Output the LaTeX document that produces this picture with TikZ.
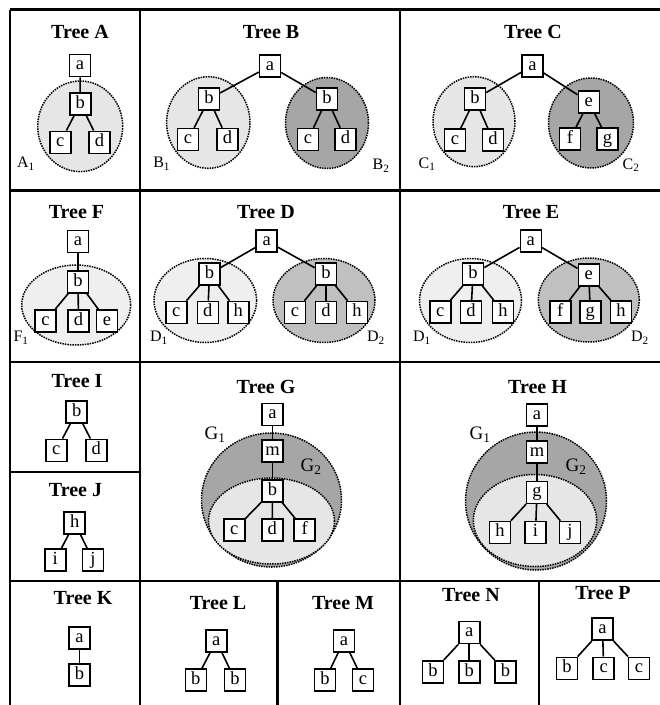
\documentclass[tikz,border=0pt]{standalone}
\usepackage{fontspec}
\setmainfont{Liberation Serif}
\definecolor{glight}{HTML}{E6E6E6}
\definecolor{glighter}{HTML}{EFEFEF}
\definecolor{gmed}{HTML}{C0C0C0}
\definecolor{gdark}{HTML}{A6A6A6}
\tikzset{
  tn/.style={draw, line width=1.6pt, fill=white, minimum width=21pt, minimum height=22pt,
    inner sep=0pt, text height=12.6pt, text depth=4pt, font=\fontsize{18.5}{18.5}\selectfont},
  ttl/.style={font=\bfseries\fontsize{20}{20}\selectfont, inner sep=0pt},
  lbl/.style={font=\fontsize{16}{16}\selectfont, inner sep=0pt},
  glbl/.style={font=\fontsize{19}{19}\selectfont, inner sep=0pt},
  tedge/.style={line width=1.6pt},
  gridline/.style={line width=2.2pt},
  blob/.style={draw=black, densely dotted, line width=1.5pt},
}
\begin{document}
\begin{tikzpicture}[x=1pt,y=-1pt]
\useasboundingbox (0,0) rectangle (660,705);
% ---------- grid ----------
\draw[gridline] (10,9.5) -- (660,9.5);
\draw[gridline] (10,9.5) -- (10,705);
\draw[gridline] (10,190.5) -- (660,190.5);
\draw[gridline] (10,362) -- (660,362);
\draw[gridline] (10,581) -- (660,581);
\draw[gridline] (10,472) -- (140,472);
\draw[gridline] (140,9.5) -- (140,705);
\draw[gridline] (400,9.5) -- (400,705);
\draw[gridline] (277.5,581) -- (277.5,705);
\draw[gridline] (539,581) -- (539,705);

% ---------- ellipses ----------
\fill[glight] (80.2,126.3) ellipse [x radius=42.5pt, y radius=45.3pt];
\draw[blob] (80.2,126.3) ellipse [x radius=42.5pt, y radius=45.3pt];
\fill[glight] (208.3,122.5) ellipse [x radius=41.7pt, y radius=45.8pt];
\draw[blob] (208.3,122.5) ellipse [x radius=41.7pt, y radius=45.8pt];
\fill[gdark] (327,123) ellipse [x radius=41.5pt, y radius=45.5pt];
\draw[blob] (327,123) ellipse [x radius=41.5pt, y radius=45.5pt];
\fill[glight] (474,121.7) ellipse [x radius=41pt, y radius=45pt];
\draw[blob] (474,121.7) ellipse [x radius=41pt, y radius=45pt];
\fill[gdark] (591,123) ellipse [x radius=42.5pt, y radius=45pt];
\draw[blob] (591,123) ellipse [x radius=42.5pt, y radius=45pt];

\fill[glighter] (76.2,305) ellipse [x radius=54.5pt, y radius=40pt];
\draw[blob] (76.2,305) ellipse [x radius=54.5pt, y radius=40pt];
\fill[glighter] (205.3,300.5) ellipse [x radius=51.3pt, y radius=42pt];
\draw[blob] (205.3,300.5) ellipse [x radius=51.3pt, y radius=42pt];
\fill[gmed] (324,300.5) ellipse [x radius=51pt, y radius=42pt];
\draw[blob] (324,300.5) ellipse [x radius=51pt, y radius=42pt];
\fill[glighter] (470.5,300.5) ellipse [x radius=51pt, y radius=42pt];
\draw[blob] (470.5,300.5) ellipse [x radius=51pt, y radius=42pt];
\fill[gmed] (588.8,300) ellipse [x radius=50.5pt, y radius=42pt];
\draw[blob] (588.8,300) ellipse [x radius=50.5pt, y radius=42pt];

\fill[gdark] (271.5,500) ellipse [x radius=70pt, y radius=67pt];
\draw[blob] (271.5,500) ellipse [x radius=70pt, y radius=67pt];
\fill[glight] (271.5,521) ellipse [x radius=63pt, y radius=43pt];
\draw[blob] (271.5,521) ellipse [x radius=63pt, y radius=43pt];
\fill[gdark] (536,501) ellipse [x radius=70.5pt, y radius=69pt];
\draw[blob] (536,501) ellipse [x radius=70.5pt, y radius=69pt];
\fill[glight] (535,520.5) ellipse [x radius=61.7pt, y radius=46pt];
\draw[blob] (535,520.5) ellipse [x radius=61.7pt, y radius=46pt];

% ---------- titles ----------
\node[ttl] (tA) at (80,32) {Tree A};
\node[ttl] (tB) at (271,32) {Tree B};
\node[ttl] (tC) at (533,32) {Tree C};
\node[ttl] (tF) at (76.5,211.7) {Tree F};
\node[ttl] (tD) at (266,211.7) {Tree D};
\node[ttl] (tE) at (531,211.7) {Tree E};
\node[ttl] (tI) at (77,381) {Tree I};
\node[ttl] (tJ) at (75.5,490) {Tree J};
\node[ttl] (tG) at (266,387) {Tree G};
\node[ttl] (tH) at (537.5,387) {Tree H};
\node[ttl] (tK) at (83,598.5) {Tree K};
\node[ttl] (tL) at (218,603.5) {Tree L};
\node[ttl] (tM) at (343,603.5) {Tree M};
\node[ttl] (tN) at (471,595) {Tree N};
\node[ttl] (tP) at (603,593.5) {Tree P};

% ---------- subtree labels ----------
\node[lbl] (lA1) at (26,164) {A\textsubscript{1}};
\node[lbl] (lB1) at (161.7,164) {B\textsubscript{1}};
\node[lbl] (lB2) at (381,166) {B\textsubscript{2}};
\node[lbl] (lC1) at (427,164) {C\textsubscript{1}};
\node[lbl] (lC2) at (631,165) {C\textsubscript{2}};
\node[lbl] (lF1) at (21,338) {F\textsubscript{1}};
\node[lbl] (lD1) at (159,338) {D\textsubscript{1}};
\node[lbl] (lD2) at (376,338) {D\textsubscript{2}};
\node[lbl] (lE1) at (422,338) {D\textsubscript{1}};
\node[lbl] (lE2) at (640,338) {D\textsubscript{2}};
\node[glbl] (lG1) at (215,435) {G\textsubscript{1}};
\node[glbl] (lG2) at (311,467) {G\textsubscript{2}};
\node[glbl] (lH1) at (480,435) {G\textsubscript{1}};
\node[glbl] (lH2) at (576,467) {G\textsubscript{2}};

% ---------- Tree A ----------
\node[tn] (Aa) at (80,65.5) {a};
\node[tn] (Ab) at (80.3,103.7) {b};
\node[tn] (Ac) at (60.3,142.3) {c};
\node[tn] (Ad) at (99.5,142.3) {d};
\draw[tedge] (Aa) -- (Ab); \draw[tedge] (Ab) -- (Ac); \draw[tedge] (Ab) -- (Ad);
% ---------- Tree B ----------
\node[tn] (Ba) at (270,66) {a};
\node[tn] (Bb1) at (209,99) {b};
\node[tn] (Bc1) at (188,139.5) {c};
\node[tn] (Bd1) at (227.5,139.5) {d};
\node[tn] (Bb2) at (327,99) {b};
\node[tn] (Bc2) at (308,139.5) {c};
\node[tn] (Bd2) at (345.5,139.5) {d};
\draw[tedge] (Ba) -- (Bb1); \draw[tedge] (Ba) -- (Bb2);
\draw[tedge] (Bb1) -- (Bc1); \draw[tedge] (Bb1) -- (Bd1);
\draw[tedge] (Bb2) -- (Bc2); \draw[tedge] (Bb2) -- (Bd2);
% ---------- Tree C ----------
\node[tn] (Ca) at (532.5,65.8) {a};
\node[tn] (Cb) at (475,99) {b};
\node[tn] (Cc) at (455,140) {c};
\node[tn] (Cd) at (493,140) {d};
\node[tn] (Ce) at (588.8,102) {e};
\node[tn] (Cf) at (570,139) {f};
\node[tn] (Cg) at (607.5,139) {g};
\draw[tedge] (Ca) -- (Cb); \draw[tedge] (Ca) -- (Ce);
\draw[tedge] (Cb) -- (Cc); \draw[tedge] (Cb) -- (Cd);
\draw[tedge] (Ce) -- (Cf); \draw[tedge] (Ce) -- (Cg);
% ---------- Tree F ----------
\node[tn] (Fa) at (78,241.3) {a};
\node[tn] (Fb) at (78,281.7) {b};
\node[tn] (Fc) at (45.5,321) {c};
\node[tn] (Fd) at (78.5,321) {d};
\node[tn] (Fe) at (107,321) {e};
\draw[tedge] (Fa) -- (Fb); \draw[tedge] (Fb) -- (Fc); \draw[tedge] (Fb) -- (Fd); \draw[tedge] (Fb) -- (Fe);
% ---------- Tree D ----------
\node[tn] (Da) at (266.7,241) {a};
\node[tn] (Db1) at (209.5,274) {b};
\node[tn] (Dc1) at (176.3,312.5) {c};
\node[tn] (Dd1) at (207.8,312.5) {d};
\node[tn] (Dh1) at (238.3,312.5) {h};
\node[tn] (Db2) at (326,274) {b};
\node[tn] (Dc2) at (295,312.5) {c};
\node[tn] (Dd2) at (326,312.5) {d};
\node[tn] (Dh2) at (357,312.5) {h};
\draw[tedge] (Da) -- (Db1); \draw[tedge] (Da) -- (Db2);
\draw[tedge] (Db1) -- (Dc1); \draw[tedge] (Db1) -- (Dd1); \draw[tedge] (Db1) -- (Dh1);
\draw[tedge] (Db2) -- (Dc2); \draw[tedge] (Db2) -- (Dd2); \draw[tedge] (Db2) -- (Dh2);
% ---------- Tree E ----------
\node[tn] (Ea) at (530.8,241) {a};
\node[tn] (Eb) at (473,274) {b};
\node[tn] (Ec) at (440.3,312) {c};
\node[tn] (Ed) at (471,312) {d};
\node[tn] (Eh1) at (503,312) {h};
\node[tn] (Ee) at (588.8,275) {e};
\node[tn] (Ef) at (560.3,312) {f};
\node[tn] (Eg) at (590.3,312) {g};
\node[tn] (Eh2) at (621,312) {h};
\draw[tedge] (Ea) -- (Eb); \draw[tedge] (Ea) -- (Ee);
\draw[tedge] (Eb) -- (Ec); \draw[tedge] (Eb) -- (Ed); \draw[tedge] (Eb) -- (Eh1);
\draw[tedge] (Ee) -- (Ef); \draw[tedge] (Ee) -- (Eg); \draw[tedge] (Ee) -- (Eh2);
% ---------- Tree I ----------
\node[tn] (Ib) at (76.7,411.7) {b};
\node[tn] (Ic) at (56.3,450.3) {c};
\node[tn] (Id) at (96.3,450.3) {d};
\draw[tedge] (Ib) -- (Ic); \draw[tedge] (Ib) -- (Id);
% ---------- Tree J ----------
\node[tn] (Jh) at (74.7,523) {h};
\node[tn] (Ji) at (55.2,560) {i};
\node[tn] (Jj) at (93,560) {j};
\draw[tedge] (Jh) -- (Ji); \draw[tedge] (Jh) -- (Jj);
% ---------- Tree G ----------
\node[tn] (Ga) at (272.5,414.5) {a};
\node[tn] (Gm) at (272.5,450.8) {m};
\node[tn] (Gb) at (272.5,490.8) {b};
\node[tn] (Gc) at (234.2,530) {c};
\node[tn] (Gd) at (272.2,530) {d};
\node[tn] (Gf) at (304.7,530) {f};
\draw[tedge] (Ga) -- (Gm); \draw[tedge] (Gm) -- (Gb);
\draw[tedge] (Gb) -- (Gc); \draw[tedge] (Gb) -- (Gd); \draw[tedge] (Gb) -- (Gf);
% ---------- Tree H ----------
\node[tn] (Ha) at (537,415) {a};
\node[tn] (Hm) at (537,452) {m};
\node[tn] (Hg) at (537,492.3) {g};
\node[tn] (Hh) at (500,532.5) {h};
\node[tn] (Hi) at (535.5,532.5) {i};
\node[tn] (Hj) at (570,532.5) {j};
\draw[tedge] (Ha) -- (Hm); \draw[tedge] (Hm) -- (Hg);
\draw[tedge] (Hg) -- (Hh); \draw[tedge] (Hg) -- (Hi); \draw[tedge] (Hg) -- (Hj);
% ---------- Tree K ----------
\node[tn] (Ka) at (79.5,638) {a};
\node[tn] (Kb) at (79.5,675) {b};
\draw[tedge] (Ka) -- (Kb);
% ---------- Tree L ----------
\node[tn] (La) at (216.3,640.8) {a};
\node[tn] (Lb1) at (195.8,680) {b};
\node[tn] (Lb2) at (235,680) {b};
\draw[tedge] (La) -- (Lb1); \draw[tedge] (La) -- (Lb2);
% ---------- Tree M ----------
\node[tn] (Ma) at (344,640.8) {a};
\node[tn] (Mb) at (325,680) {b};
\node[tn] (Mc) at (363,680) {c};
\draw[tedge] (Ma) -- (Mb); \draw[tedge] (Ma) -- (Mc);
% ---------- Tree N ----------
\node[tn] (Na) at (469.2,632.5) {a};
\node[tn] (Nb1) at (433,671.7) {b};
\node[tn] (Nb2) at (469.2,671.7) {b};
\node[tn] (Nb3) at (505.5,671.7) {b};
\draw[tedge] (Na) -- (Nb1); \draw[tedge] (Na) -- (Nb2); \draw[tedge] (Na) -- (Nb3);
% ---------- Tree P ----------
\node[tn] (Pa) at (602.5,629.2) {a};
\node[tn] (Pb) at (567,668.3) {b};
\node[tn] (Pc1) at (603.7,668.3) {c};
\node[tn] (Pc2) at (639,668.3) {c};
\draw[tedge] (Pa) -- (Pb); \draw[tedge] (Pa) -- (Pc1); \draw[tedge] (Pa) -- (Pc2);
\end{tikzpicture}
\end{document}
